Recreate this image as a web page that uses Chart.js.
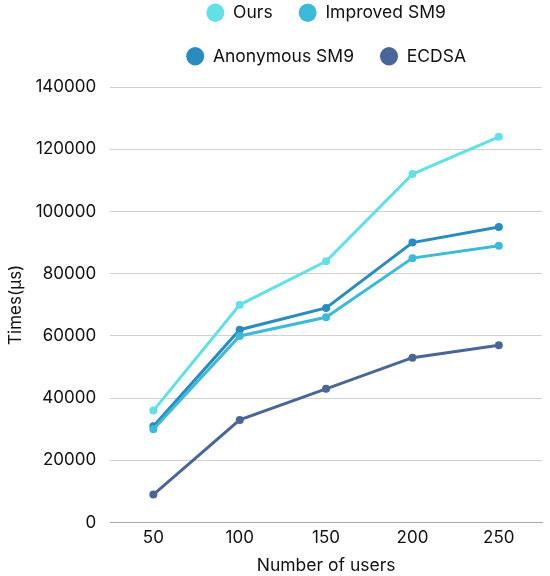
<!DOCTYPE html>
<html>
<head>
<meta charset="utf-8">
<script src="https://cdn.jsdelivr.net/npm/chart.js@4/dist/chart.umd.min.js"></script>
<style>
  html, body { margin: 0; padding: 0; background: #fff; }
  #chart { display: block; }
</style>
</head>
<body>
<canvas id="chart" width="550" height="576"></canvas>
<script>
const users = ['50', '100', '150', '200', '250'];
const ours = [36000, 70000, 84000, 112000, 124000];
const improvedSM9 = [30000, 60000, 66000, 85000, 89000];
const anonymousSM9 = [31000, 62000, 69000, 90000, 95000];
const ecdsa = [9000, 33000, 43000, 53000, 57000];

const FONT = 'Inter, "Noto Sans", "DejaVu Sans", sans-serif';

// the legend should wrap after two items, so give it a narrower width to lay out rows
// and leave a bit more room under it
const legendWrap = {
    id: 'legendWrap',
    beforeUpdate(chart) {
        const lg = chart.legend;
        if (lg && !lg._wrapped) {
            const orig = lg.update.bind(lg);
            lg.update = function (w, h, m) {
                orig(Math.min(w, 340), h, m);
                this.height += 12;
            };
            lg._wrapped = true;
        }
    }
};

function series(label, data, color) {
    return {
        label: label,
        data: data,
        borderColor: color,
        backgroundColor: color,
        borderWidth: 3,
        pointRadius: 4,
        pointHoverRadius: 4,
        pointBackgroundColor: color,
        pointBorderWidth: 0,
        fill: false,
        tension: 0
    };
}

const ctx = document.getElementById('chart').getContext('2d');
new Chart(ctx, {
    type: 'line',
    data: {
        labels: users,
        datasets: [
            series('Ours', ours, '#62e0e6'),
            series('Improved SM9', improvedSM9, '#3db9da'),
            series('Anonymous SM9', anonymousSM9, '#2a8bbe'),
            series('ECDSA', ecdsa, '#4a6697')
        ]
    },
    options: {
        responsive: false,
        animation: false,
        devicePixelRatio: 1,
        layout: { padding: { top: -22, left: 6, right: 8, bottom: 0 } },
        plugins: {
            legend: {
                position: 'top',
                fullSize: false,
                labels: {
                    usePointStyle: true,
                    pointStyle: 'circle',
                    boxHeight: 13,
                    pointStyleWidth: 18,
                    padding: 26,
                    color: '#111',
                    font: { family: FONT, size: 17.5 }
                }
            },
            tooltip: { enabled: false }
        },
        scales: {
            x: {
                offset: true,
                grid: { display: false, drawTicks: false },
                border: { display: true, color: '#a8a8a8', width: 1 },
                ticks: { color: '#111', padding: 5, font: { family: FONT, size: 17 } },
                title: {
                    display: true,
                    text: 'Number of users',
                    color: '#111',
                    padding: { top: 2, bottom: 0 },
                    font: { family: FONT, size: 17.5 }
                }
            },
            y: {
                min: 0,
                max: 140000,
                ticks: {
                    stepSize: 20000,
                    color: '#111',
                    padding: 14,
                    font: { family: FONT, size: 17 },
                    callback: function (v) { return String(v); }
                },
                grid: { color: '#d0d0d0', lineWidth: 1, drawTicks: false },
                border: { display: false },
                title: {
                    display: true,
                    text: 'Times(μs)',
                    color: '#111',
                    padding: { top: 0, bottom: -5 },
                    font: { family: FONT, size: 17 }
                }
            }
        }
    },
    plugins: [legendWrap]
});
</script>
</body>
</html>
